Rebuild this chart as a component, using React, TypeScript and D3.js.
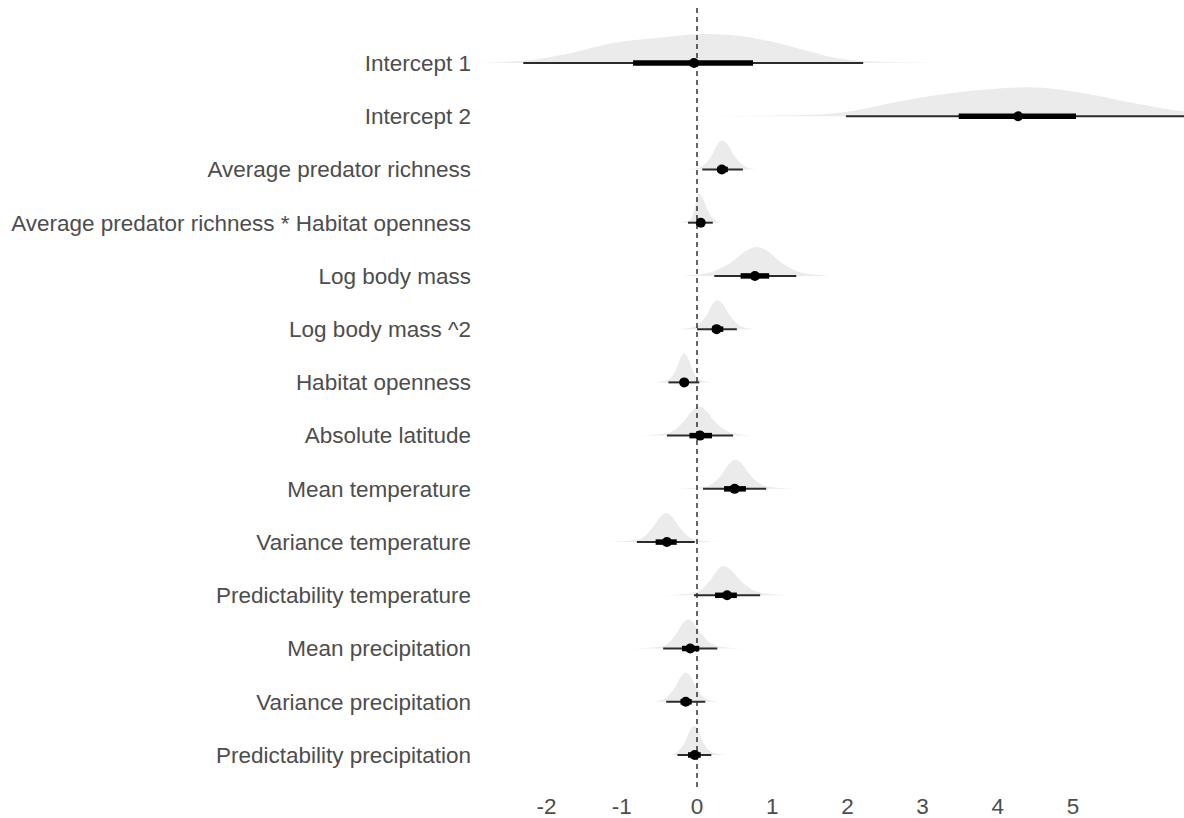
import React from "react";
import * as d3 from "d3";

// model terms, top to bottom
const terms = [
  "Intercept 1",
  "Intercept 2",
  "Average predator richness",
  "Average predator richness * Habitat openness",
  "Log body mass",
  "Log body mass ^2",
  "Habitat openness",
  "Absolute latitude",
  "Mean temperature",
  "Variance temperature",
  "Predictability temperature",
  "Mean precipitation",
  "Variance precipitation",
  "Predictability precipitation",
];

// point estimate + intervals
const medians = [-0.04, 4.27, 0.33, 0.05, 0.77, 0.26, -0.17, 0.04, 0.5, -0.4, 0.4, -0.09, -0.15, -0.03];
const lo66 = [-0.85, 3.48, 0.27, 0.0, 0.58, 0.2, -0.22, -0.1, 0.36, -0.55, 0.24, -0.2, -0.22, -0.12];
const hi66 = [0.745, 5.04, 0.41, 0.1, 0.96, 0.35, -0.12, 0.2, 0.65, -0.27, 0.53, 0.03, -0.07, 0.05];
const lo95 = [-2.31, 1.98, 0.07, -0.12, 0.23, 0.0, -0.38, -0.4, 0.08, -0.8, -0.04, -0.45, -0.41, -0.26];
const hi95 = [2.21, 6.7, 0.61, 0.21, 1.32, 0.53, 0.03, 0.48, 0.92, -0.03, 0.84, 0.27, 0.11, 0.19];

// posterior density outline per term: [x, relative height]
const densities: [number, number][][] = [
  [[-3.05, 0], [-2.6, 0.03], [-2.31, 0.08], [-1.69, 0.34], [-1.12, 0.69], [-0.53, 0.86], [0.08, 1], [0.53, 0.94], [0.97, 0.75], [1.41, 0.46], [1.86, 0.17], [2.21, 0.06], [2.74, 0.02], [3.76, 0]],
  [[0.13, 0], [1.3, 0.03], [1.98, 0.15], [2.7, 0.52], [3.59, 0.86], [4.43, 1], [5.13, 0.8], [5.8, 0.46], [6.46, 0.17], [7.0, 0.05], [7.6, 0]],
  [[-0.13, 0], [0.04, 0.08], [0.2, 0.5], [0.268, 0.85], [0.33, 1], [0.407, 0.85], [0.49, 0.5], [0.66, 0.08], [0.81, 0]],
  [[-0.25, 0], [-0.09, 0.08], [-0.03, 0.5], [0.001, 0.85], [0.03, 1], [0.078, 0.85], [0.13, 0.5], [0.24, 0.08], [0.33, 0]],
  [[-0.2, 0], [0.11, 0.08], [0.47, 0.5], [0.642, 0.85], [0.8, 1], [0.944, 0.85], [1.1, 0.5], [1.44, 0.08], [1.77, 0]],
  [[-0.23, 0], [-0.04, 0.08], [0.13, 0.5], [0.203, 0.85], [0.27, 1], [0.347, 0.85], [0.43, 0.5], [0.6, 0.08], [0.77, 0]],
  [[-0.56, 0], [-0.39, 0.08], [-0.27, 0.5], [-0.218, 0.85], [-0.17, 1], [-0.122, 0.85], [-0.07, 0.5], [0.04, 0.08], [0.2, 0]],
  [[-0.78, 0], [-0.4, 0.08], [-0.17, 0.5], [-0.066, 0.85], [0.03, 1], [0.126, 0.85], [0.23, 0.5], [0.48, 0.08], [0.73, 0]],
  [[-0.27, 0], [0.13, 0.08], [0.33, 0.5], [0.424, 0.85], [0.51, 1], [0.601, 0.85], [0.7, 0.5], [0.93, 0.08], [1.3, 0]],
  [[-1.2, 0], [-0.78, 0.08], [-0.59, 0.5], [-0.496, 0.85], [-0.41, 1], [-0.324, 0.85], [-0.23, 0.5], [-0.03, 0.08], [0.31, 0]],
  [[-0.45, 0], [-0.03, 0.08], [0.17, 0.5], [0.264, 0.85], [0.35, 1], [0.46, 0.85], [0.58, 0.5], [0.86, 0.08], [1.26, 0]],
  [[-0.86, 0], [-0.45, 0.08], [-0.28, 0.5], [-0.197, 0.85], [-0.12, 1], [-0.034, 0.85], [0.06, 0.5], [0.27, 0.08], [0.61, 0]],
  [[-0.59, 0], [-0.45, 0.08], [-0.29, 0.5], [-0.217, 0.85], [-0.15, 1], [-0.083, 0.85], [-0.01, 0.5], [0.13, 0.08], [0.31, 0]],
  [[-0.36, 0], [-0.27, 0.08], [-0.15, 0.5], [-0.093, 0.85], [-0.04, 1], [0.013, 0.85], [0.07, 0.5], [0.21, 0.08], [0.4, 0]],
];

const xTicks = [-2, -1, 0, 1, 2, 3, 4, 5];

const W = 1184;
const H = 818;
const panelLeft = 474;
const fontFam = "'Liberation Sans', Arial, Helvetica, sans-serif";

export default function App() {
  const x = d3.scaleLinear().domain([-3, 6.5]).range([471.4, 1185.8]);
  const y = d3.scalePoint<string>().domain(terms).range([63, 755]);
  const h = d3.scaleLinear().domain([0, 1]).range([0, 29]);

  const slab = (i: number) => {
    const base = y(terms[i]) as number;
    return d3
      .area<[number, number]>()
      .x((d) => x(d[0]))
      .y0(base)
      .y1((d) => base - h(d[1]))
      .curve(d3.curveMonotoneX)(densities[i]);
  };

  return (
    <svg
      width={W}
      height={H}
      style={{ position: "absolute", left: 0, top: 0, background: "#fff" }}
      fontFamily={fontFam}
    >
      <defs>
        <clipPath id="panel">
          <rect x={panelLeft} y={0} width={W - panelLeft} height={H} />
        </clipPath>
      </defs>

      <g clipPath="url(#panel)">
        {terms.map((t, i) => (
          <path key={"s" + i} d={slab(i) || ""} fill="#ebebeb" />
        ))}
      </g>

      <line
        x1={x(0)}
        x2={x(0)}
        y1={8}
        y2={788}
        stroke="#000"
        strokeWidth={1.2}
        strokeDasharray="5,4"
      />

      <g clipPath="url(#panel)">
        {terms.map((t, i) => {
          const cy = y(t) as number;
          return (
            <g key={"iv" + i}>
              <line x1={x(lo95[i])} x2={x(hi95[i])} y1={cy} y2={cy} stroke="#2b2b2b" strokeWidth={2} />
              <line x1={x(lo66[i])} x2={x(hi66[i])} y1={cy} y2={cy} stroke="#000" strokeWidth={5.5} />
              <circle cx={x(medians[i])} cy={cy} r={5} fill="#000" />
            </g>
          );
        })}
      </g>

      {terms.map((t) => (
        <text
          key={"l" + t}
          x={471}
          y={y(t) as number}
          dy="0.35em"
          textAnchor="end"
          fontSize={22.5}
          fill="#4d4d4d"
        >
          {t}
        </text>
      ))}

      {xTicks.map((v) => (
        <text key={"t" + v} x={x(v)} y={814} textAnchor="middle" fontSize={22.5} fill="#4d4d4d">
          {v}
        </text>
      ))}
    </svg>
  );
}
